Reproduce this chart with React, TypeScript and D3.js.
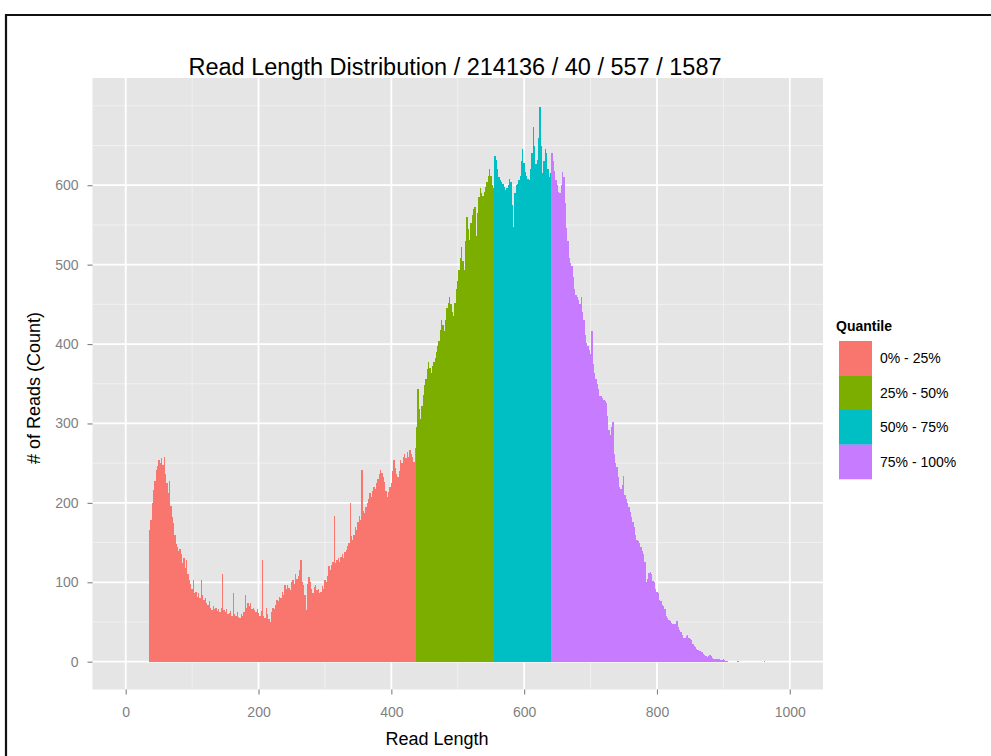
import React, { useEffect, useRef } from "react";
import * as d3 from "d3";

// read lengths are binned 2 bp wide, counts are per read length
const quantileLabels = ["0% - 25%", "25% - 50%", "50% - 75%", "75% - 100%"];
const quantileColors = ["#F8766D", "#7CAE00", "#00BFC4", "#C77CFF"];
const quantileStarts = [36, 438, 556, 642];
const binWidth = 2;

const q1Counts = [
  166, 178, 200, 216, 228, 241, 246, 254, 250, 257,
  248, 258, 236, 225, 212, 228, 196, 182, 175, 160,
  148, 145, 140, 142, 135, 124, 130, 118, 128, 110,
  103, 98, 92, 103, 86, 88, 82, 86, 80, 103,
  84, 78, 80, 74, 72, 76, 68, 65, 70, 66,
  68, 64, 66, 62, 68, 111, 65, 62, 66, 60,
  61, 64, 58, 86, 60, 57, 62, 56, 55, 60,
  58, 62, 84, 68, 74, 70, 74, 66, 68, 65,
  62, 66, 61, 58, 64, 128, 58, 55, 68, 60,
  54, 50, 62, 68, 66, 72, 78, 76, 82, 80,
  88, 84, 96, 92, 96, 93, 90, 100, 103, 98,
  111, 104, 108, 116, 128, 100, 96, 84, 65, 98,
  107, 100, 92, 86, 94, 96, 90, 92, 86, 88,
  95, 92, 103, 100, 108, 120, 115, 122, 126, 183,
  124, 128, 130, 126, 132, 136, 130, 138, 141, 146,
  150, 200, 158, 153, 160, 170, 166, 176, 183, 178,
  241, 190, 187, 195, 200, 205, 212, 208, 215, 220,
  218, 225, 230, 236, 241, 238, 233, 226, 215, 208,
  214, 220, 225, 240, 254, 244, 236, 233, 240, 254,
  250, 258, 262, 256, 264, 258, 267, 262, 258, 252,
  269,
];
const q2Counts = [
  296, 344, 318, 305, 322, 336, 349, 356, 368, 377,
  370, 363, 372, 378, 382, 390, 397, 404, 418, 430,
  424, 416, 430, 445, 452, 459, 450, 440, 435, 452,
  469, 480, 493, 508, 522, 505, 493, 530, 560, 545,
  531, 552, 562, 570, 573, 536, 565, 585, 596, 590,
  586, 592, 598, 604, 612, 620, 612, 600, 596,
];
const q3Counts = [
  637, 632, 620, 610, 606, 604, 602, 598, 594, 596,
  600, 608, 604, 575, 548, 590, 600, 602, 606, 612,
  630, 646, 628, 617, 612, 608, 606, 620, 640, 673,
  650, 627, 632, 660, 698, 650, 615, 630, 646, 640,
  620, 610, 616,
];
const q4Counts = [
  640, 630, 618, 606, 600, 592, 590, 600, 617, 610,
  578, 546, 530, 508, 502, 498, 485, 469, 462, 459,
  455, 450, 459, 440, 430, 412, 401, 398, 392, 388,
  416, 375, 363, 356, 350, 344, 335, 334, 332, 330,
  328, 326, 310, 292, 285, 296, 302, 262, 250, 245,
  232, 220, 217, 222, 234, 210, 205, 200, 195, 188,
  182, 176, 170, 160, 153, 152, 150, 145, 140, 136,
  125, 100, 104, 112, 113, 110, 102, 100, 92, 88,
  86, 78, 76, 72, 70, 66, 58, 55, 53, 51,
  49, 47, 47, 48, 51, 44, 40, 38, 33, 30,
  30, 32, 33, 30, 28, 27, 22, 20, 18, 16,
  15, 14, 14, 12, 10, 9, 7, 6, 7, 8,
  7, 5, 4, 4, 4, 3, 3, 2, 2, 3,
  2, 1, 1, 0, 0, 0, 0, 0, 0, 0,
  1, 0, 0, 0, 0, 0, 0, 0, 0, 0,
  0, 0, 0, 0, 0, 0, 0, 0, 0, 0,
  1, 0,
];

const xTicks = [0, 200, 400, 600, 800, 1000];
const xMinor = [100, 300, 500, 700, 900];
const yTicks = [0, 100, 200, 300, 400, 500, 600];
const yMinor = [50, 150, 250, 350, 450, 550, 650, 700];

const title = "Read Length Distribution / 214136 / 40 / 557 / 1587";
const xTitle = "Read Length";
const yTitle = "# of Reads (Count)";
const legendTitle = "Quantile";

const W = 991;
const H = 756;
const panel = { left: 92.5, right: 823, top: 78, bottom: 689.5 };
const font = "'Liberation Sans', Arial, sans-serif";
const grey50 = "#7f7f7f";

export default function App() {
  const ref = useRef<SVGSVGElement>(null);

  useEffect(() => {
    const svg = d3.select(ref.current);
    svg.selectAll("*").remove();

    const x = d3.scaleLinear().domain([-50, 1050]).range([panel.left, panel.right]);
    const y = d3.scaleLinear().domain([-35, 735]).range([panel.bottom, panel.top]);

    // outer frame of the screenshot
    svg.append("path")
      .attr("d", `M6,${H} L6,15 L${W},15`)
      .attr("fill", "none")
      .attr("stroke", "#111")
      .attr("stroke-width", 2.2);

    // panel
    svg.append("rect")
      .attr("x", panel.left).attr("y", panel.top)
      .attr("width", panel.right - panel.left)
      .attr("height", panel.bottom - panel.top)
      .attr("fill", "#e5e5e5");

    const grid = svg.append("g");
    grid.selectAll(".vminor").data(xMinor).join("line")
      .attr("x1", (d) => x(d)).attr("x2", (d) => x(d))
      .attr("y1", panel.top).attr("y2", panel.bottom)
      .attr("stroke", "#f2f2f2").attr("stroke-width", 0.9);
    grid.selectAll(".hminor").data(yMinor).join("line")
      .attr("x1", panel.left).attr("x2", panel.right)
      .attr("y1", (d) => y(d)).attr("y2", (d) => y(d))
      .attr("stroke", "#f2f2f2").attr("stroke-width", 0.9);
    grid.append("g").selectAll("line").data(xTicks).join("line")
      .attr("x1", (d) => x(d)).attr("x2", (d) => x(d))
      .attr("y1", panel.top).attr("y2", panel.bottom)
      .attr("stroke", "#fff").attr("stroke-width", 1.8);
    grid.append("g").selectAll("line").data(yTicks).join("line")
      .attr("x1", panel.left).attr("x2", panel.right)
      .attr("y1", (d) => y(d)).attr("y2", (d) => y(d))
      .attr("stroke", "#fff").attr("stroke-width", 1.8);

    // histogram bars
    const bins = [q1Counts, q2Counts, q3Counts, q4Counts].flatMap((arr, q) =>
      arr.map((count, i) => ({ len: quantileStarts[q] + i * binWidth, count, q }))
    );
    svg.append("g")
      .attr("shape-rendering", "crispEdges")
      .selectAll("rect")
      .data(bins.filter((b) => b.count > 0))
      .join("rect")
      .attr("x", (d) => x(d.len - binWidth / 2))
      .attr("width", (d) => x(d.len + binWidth / 2) - x(d.len - binWidth / 2))
      .attr("y", (d) => y(d.count))
      .attr("height", (d) => Math.max(1, y(0) - y(d.count)))
      .attr("fill", (d) => quantileColors[d.q]);

    // axes
    const xAxis = svg.append("g")
      .attr("transform", `translate(0,${panel.bottom})`)
      .call(d3.axisBottom(x).tickValues(xTicks).tickFormat(d3.format("d")).tickSize(5).tickPadding(13));
    const yAxis = svg.append("g")
      .attr("transform", `translate(${panel.left},0)`)
      .call(d3.axisLeft(y).tickValues(yTicks).tickFormat(d3.format("d")).tickSize(5).tickPadding(9));
    [xAxis, yAxis].forEach((g) => {
      g.select(".domain").remove();
      g.selectAll(".tick line").attr("stroke", grey50).attr("stroke-width", 1.1);
      g.selectAll(".tick text")
        .attr("fill", grey50)
        .style("font-family", font)
        .style("font-size", "14px");
    });

    // titles
    svg.append("text")
      .attr("x", 455).attr("y", 75)
      .attr("text-anchor", "middle")
      .style("font-family", font).style("font-size", "23.5px")
      .attr("fill", "#000")
      .text(title);
    svg.append("text")
      .attr("x", 437).attr("y", 745)
      .attr("text-anchor", "middle")
      .style("font-family", font).style("font-size", "18px")
      .text(xTitle);
    svg.append("text")
      .attr("transform", `translate(40,388) rotate(-90)`)
      .attr("text-anchor", "middle")
      .style("font-family", font).style("font-size", "18px")
      .text(yTitle);

    // legend
    const legend = svg.append("g");
    legend.append("text")
      .attr("x", 836).attr("y", 331)
      .style("font-family", font).style("font-size", "14px").style("font-weight", "bold")
      .text(legendTitle);
    const keyH = 34.5;
    legend.selectAll("rect").data(quantileLabels).join("rect")
      .attr("x", 839).attr("y", (d, i) => 341 + i * keyH)
      .attr("width", 33).attr("height", keyH + 0.3)
      .attr("fill", (d, i) => quantileColors[i]);
    legend.selectAll("text.lab").data(quantileLabels).join("text")
      .attr("class", "lab")
      .attr("x", 880).attr("y", (d, i) => 341 + i * keyH + keyH / 2)
      .attr("dy", "0.35em")
      .style("font-family", font).style("font-size", "14px")
      .text((d) => d);
  });

  return (
    <svg
      ref={ref}
      width={W}
      height={H}
      style={{ position: "absolute", left: 0, top: 0, background: "#fff", display: "block" }}
    ></svg>
  );
}
